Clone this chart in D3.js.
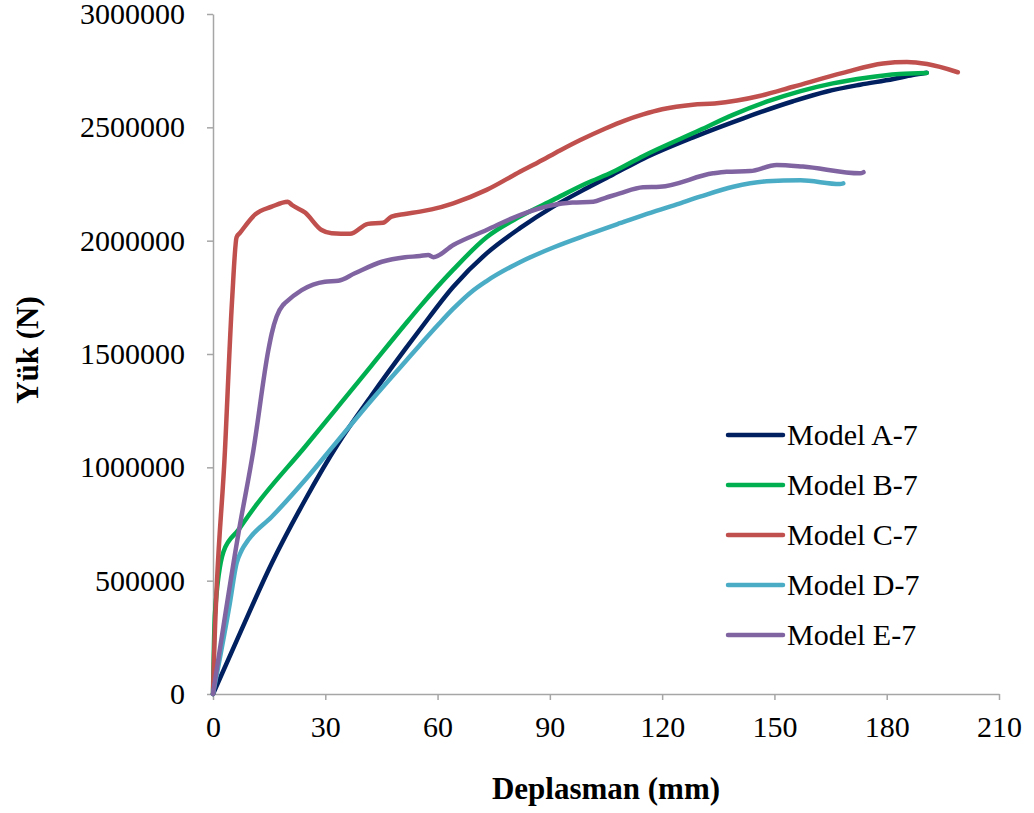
<!DOCTYPE html>
<html>
<head>
<meta charset="utf-8">
<script src="https://cdn.jsdelivr.net/npm/d3@7"></script>
<style>
  body { margin: 0; background: #fff; }
  svg { display: block; font-family: "Times New Roman", "Liberation Serif", serif; }
  .axis path, .axis line { stroke: #a6a6a6; stroke-width: 1.5px; }
  .axis text { font-size: 30px; fill: #000; font-family: "Times New Roman", "Liberation Serif", serif; }
  .title { font-size: 31px; font-weight: bold; }
  .legend text { font-size: 30px; }
  .line { fill: none; stroke-width: 4.5px; stroke-linejoin: round; stroke-linecap: round; }
</style>
</head>
<body>
<script>
// Load-displacement curves, Model A-7 .. E-7

var xTicks = [0, 30, 60, 90, 120, 150, 180, 210],
    yTicks = [0, 500000, 1000000, 1500000, 2000000, 2500000, 3000000];

var names = ['Model A-7', 'Model B-7', 'Model C-7', 'Model D-7', 'Model E-7'],
    colors = ['#002060', '#00b050', '#c0504d', '#4bacc6', '#8064a2'];

// [deplasman (mm), yük (N)]
var modelA = [[0, 0], [6.8, 253000], [15.7, 577000], [24.6, 856000], [33.5, 1106000],
    [42.4, 1318000], [51.3, 1520000], [55.3, 1608000], [64.2, 1797000], [73.1, 1944000],
    [82.0, 2055000], [90.9, 2150000], [99.8, 2231000], [106.9, 2292000], [115.0, 2362000],
    [128.3, 2456000], [141.7, 2540000], [155.0, 2615000], [164.0, 2658000], [172.9, 2688000],
    [181.8, 2713000], [186.9, 2731000], [190.7, 2741000]];

var modelB = [[0, 0], [0.5, 350000], [2.8, 628000], [6.8, 724000], [11.2, 826000],
    [24.6, 1091000], [33.5, 1270000], [42.4, 1450000], [51.3, 1630000], [55.3, 1709000],
    [64.2, 1872000], [73.1, 2015000], [82.0, 2106000], [90.9, 2180000], [99.8, 2253000],
    [106.9, 2304000], [115.0, 2374000], [130.1, 2488000], [138.9, 2555000], [147.9, 2613000],
    [157.0, 2660000], [165.6, 2694000], [174.6, 2719000], [183.4, 2735000], [190.7, 2740000]];

var modelC = [[0, 0], [0.2, 120000], [3.2, 1076000], [5.1, 1738000], [6.3, 2015000],
    [7.2, 2034000], [11.2, 2115000], [15.7, 2150000], [20.0, 2172000], [21.1, 2157000],
    [24.6, 2124000], [29.0, 2047000], [31.7, 2033000], [36.6, 2030000], [41.4, 2074000],
    [45.4, 2079000], [47.7, 2106000], [51.3, 2118000], [55.3, 2128000], [58.4, 2138000],
    [64.2, 2165000], [73.1, 2224000], [82.0, 2304000], [86.8, 2345000], [92.7, 2398000],
    [98.0, 2443000], [104.7, 2494000], [110.0, 2530000], [114.9, 2557000], [120.0, 2580000],
    [128.2, 2600000], [134.0, 2605000], [140.0, 2618000], [146.0, 2638000], [155.0, 2679000],
    [168.3, 2740000], [179.0, 2782000], [185.4, 2788000], [190.8, 2779000], [199.0, 2743000]];

var modelD = [[0, 0], [4.5, 400000], [6.3, 577000], [7.7, 635000], [9.4, 679000],
    [15.7, 782000], [24.6, 944000], [33.5, 1121000], [42.4, 1297000], [51.3, 1465000],
    [55.3, 1540000], [60.2, 1630000], [64.2, 1700000], [69.1, 1775000], [73.1, 1822000],
    [82.0, 1905000], [90.9, 1970000], [99.8, 2025000], [108.7, 2077000], [115.0, 2113000],
    [123.9, 2160000], [130.1, 2194000], [139.0, 2238000], [147.9, 2262000], [157.0, 2266000],
    [167.5, 2250000], [168.4, 2253000]];

var modelE = [[0, 0], [6.8, 709000], [10.8, 1076000], [14.8, 1518000], [15.7, 1591000],
    [17.0, 1665000], [18.7, 1716000], [19.2, 1724000], [23.7, 1782000], [29.9, 1819000],
    [33.5, 1823000], [37.9, 1856000], [45.1, 1907000], [51.3, 1927000], [55.3, 1932000],
    [57.5, 1937000], [58.9, 1927000], [64.2, 1981000], [73.1, 2047000], [82.0, 2113000],
    [90.9, 2157000], [96.0, 2168000], [101.6, 2172000], [104.7, 2188000], [108.7, 2209000],
    [114.9, 2236000], [119.4, 2238000], [133.6, 2297000], [137.2, 2304000], [143.5, 2307000],
    [150.6, 2334000], [157.6, 2327000], [172.9, 2297000], [173.8, 2302000]];

var series = [modelA, modelB, modelC, modelD, modelE];

var width = 1034,
    height = 813,
    plotLeft = 213, plotRight = 999,
    plotTop = 14, plotBottom = 694;

var svg = d3.select('body').append('svg')
    .attr('width', width)
    .attr('height', height);

var xs = d3.scaleLinear().domain([0, 210]).range([plotLeft, plotRight]);
var ys = d3.scaleLinear().domain([0, 3000000]).range([plotBottom, plotTop]);

var xAxis = svg.append('g')
    .classed('axis', true)
    .attr('transform', 'translate(0,' + plotBottom + ')')
    .call(d3.axisBottom(xs).tickValues(xTicks).tickSize(6).tickSizeOuter(0).tickPadding(10).tickFormat(d3.format('d')));

var yAxis = svg.append('g')
    .classed('axis', true)
    .attr('transform', 'translate(' + plotLeft + ',0)')
    .call(d3.axisLeft(ys).tickValues(yTicks).tickSize(6).tickSizeOuter(0).tickPadding(22).tickFormat(d3.format('d')));

svg.selectAll('.axis').attr('font-family', null).attr('font-size', null);
xAxis.selectAll('text').attr('dy', '0.9em');

var line = d3.line()
    .curve(d3.curveMonotoneX)
    .x(function(d) { return xs(d[0]); })
    .y(function(d) { return ys(d[1]); });

svg.append('g').selectAll('path')
    .data(series)
    .enter()
    .append('path')
    .classed('line', true)
    .attr('d', line)
    .style('stroke', function(d, i) { return colors[i]; });

// axis titles
svg.append('text')
    .classed('title', true)
    .attr('text-anchor', 'middle')
    .attr('x', 606)
    .attr('y', 799)
    .text('Deplasman (mm)');

svg.append('text')
    .classed('title', true)
    .attr('text-anchor', 'middle')
    .attr('transform', 'translate(38,350) rotate(-90)')
    .text('Yük (N)');

// legend
var legend = svg.append('g').classed('legend', true);
var rows = legend.selectAll('g')
    .data(names)
    .enter()
    .append('g')
    .attr('transform', function(d, i) { return 'translate(728,' + (435 + 50 * i) + ')'; });

rows.append('line')
    .attr('x1', 0).attr('x2', 55)
    .attr('y1', 0).attr('y2', 0)
    .style('stroke', function(d, i) { return colors[i]; })
    .style('stroke-width', 4.5)
    .style('stroke-linecap', 'round');

rows.append('text')
    .attr('x', 59)
    .attr('y', 10)
    .text(function(d) { return d; });
</script>
</body>
</html>
